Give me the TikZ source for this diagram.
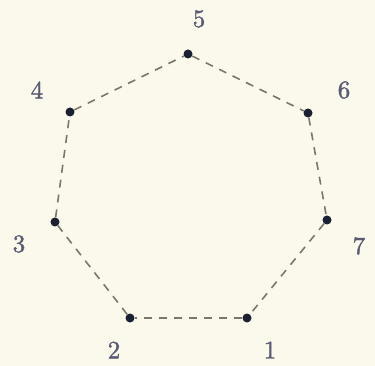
\documentclass[tikz,border=0pt]{standalone}
\usepackage{fontspec}
\newfontfamily\lblfont{lmroman10-regular.otf}[FakeBold=1.6]
\definecolor{bgc}{HTML}{FBF8EC}
\definecolor{lbl}{HTML}{5A5C74}
\definecolor{dotc}{HTML}{1B2033}
\definecolor{edge}{HTML}{7C776C}
\begin{document}
\begin{tikzpicture}[x=1pt,y=-1pt,
  pt/.style={circle,fill=dotc,inner sep=0pt,minimum size=9pt},
  lab/.style={text=lbl,font=\lblfont\fontsize{25}{27}\selectfont,inner sep=0pt},
  edgeline/.style={draw=edge,dash pattern=on 8pt off 7pt,line width=1.6pt}]
\fill[bgc] (0,0) rectangle (375,366);
\useasboundingbox (0,0) rectangle (375,366);
\node[pt] (p1) at (247,318) {};
\node[pt] (p2) at (130,318) {};
\node[pt] (p3) at (55,222) {};
\node[pt] (p4) at (70,112) {};
\node[pt] (p5) at (188,54) {};
\node[pt] (p6) at (308,113) {};
\node[pt] (p7) at (327,220) {};
\node[lab] (l1) at (270,350) {1};
\node[lab] (l2) at (114,350) {2};
\node[lab] (l3) at (19,244) {3};
\node[lab] (l4) at (37,90) {4};
\node[lab] (l5) at (199,19) {5};
\node[lab] (l6) at (344,90) {6};
\node[lab] (l7) at (359,246) {7};
\draw[edgeline] (p1) -- (p2);
\draw[edgeline] (p2) -- (p3);
\draw[edgeline] (p3) -- (p4);
\draw[edgeline] (p4) -- (p5);
\draw[edgeline] (p5) -- (p6);
\draw[edgeline] (p6) -- (p7);
\draw[edgeline] (p7) -- (p1);
\end{tikzpicture}
\end{document}
